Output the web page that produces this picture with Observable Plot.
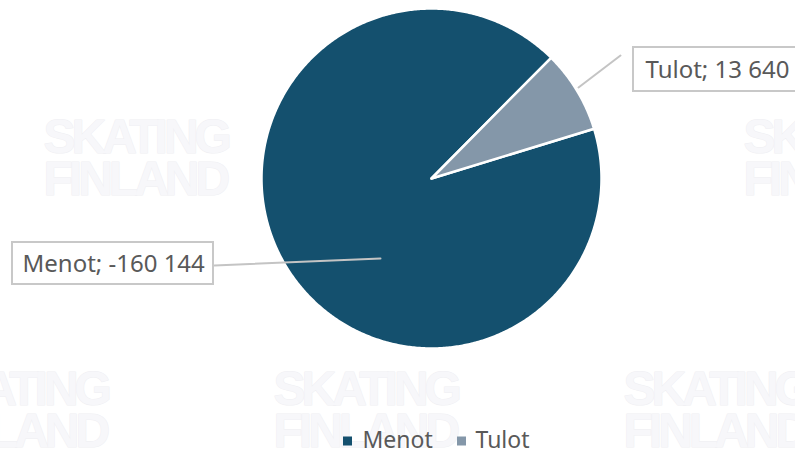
<!DOCTYPE html>
<html>
<head>
<meta charset="utf-8">
<script src="https://cdn.jsdelivr.net/npm/d3@7"></script>
<script src="https://cdn.jsdelivr.net/npm/@observablehq/plot@0.6"></script>
<style>
  html, body { margin: 0; padding: 0; background: #ffffff; }
  #chart { width: 795px; height: 450px; overflow: hidden; }
  g[fill="#f7f7fa"] { letter-spacing: -4px; }
</style>
</head>
<body>
<div id="chart"></div>
<script>
// ---- data ----
const categories = ["Menot", "Tulot"];
const values = [-160144, 13640];
const labels = ["Menot; -160 144", "Tulot; 13 640"];
const colors = ["#14506e", "#8497a9"];

// ---- layout ----
const W = 795, H = 450;
const cx = 431, cy = 178, R = 170;
const startDeg = 73;
const font = "Noto Sans";
const textColor = "#595959";

const total = d3.sum(values, v => Math.abs(v));
const pt = (a, r) => [cx + r * Math.sin(a), cy - r * Math.cos(a)];

// slice polygons computed from data
let a0 = startDeg * Math.PI / 180;
const slices = categories.map((c, i) => {
  const a1 = a0 + Math.abs(values[i]) / total * 2 * Math.PI;
  const n = Math.max(2, Math.ceil((a1 - a0) / (Math.PI / 360)));
  const pts = [{x: cx, y: cy}];
  for (let k = 0; k <= n; k++) {
    const [x, y] = pt(a0 + (a1 - a0) * k / n, R);
    pts.push({x, y});
  }
  pts.push({x: cx, y: cy});
  const s = {category: c, color: colors[i], pts, a0, a1};
  a0 = a1;
  return s;
});

// data labels (box + text + leader)
const labelLayout = [
  {box: [12, 213, 242, 284], tx: 22, ty: 264, leader: [[214, 265], [380, 258]]},
  {box: [633, 815, 47, 91], tx: 645, ty: 70, leader: [[578, 87], [620, 55]]}
];
const labelRows = categories.map((c, i) => ({
  text: labels[i], ...labelLayout[i]
}));

// watermark tiles
const wmTiles = [[43, 118], [393, 118], [743, 118], [-77, 370], [273, 370], [623, 370]];

// legend
const legendLayout = [{sq: 343, tx: 362}, {sq: 457, tx: 475}];
const legendY = 441;
const legendRows = categories.map((c, i) => ({category: c, color: colors[i], ...legendLayout[i]}));

const marks = [];
// watermark (behind)
for (const [x, y] of wmTiles) {
  marks.push(Plot.text(["SKATING", "FINLAND"], {
    x: x, y: (d, i) => y + 19 + i * 42, text: d => d,
    textAnchor: "start", fontSize: 48, fontWeight: "bold",
    fontFamily: "Liberation Sans, sans-serif",
    fill: "#f7f7fa", stroke: "#efeff3", strokeWidth: 1
  }));
}
// pie slices
for (const s of slices) {
  marks.push(Plot.line(s.pts, {
    x: "x", y: "y", fill: s.color, stroke: "#ffffff", strokeWidth: 2.5,
    strokeLinejoin: "round", curve: "linear"
  }));
}
// leaders
for (const r of labelRows) {
  marks.push(Plot.line(r.leader, {x: d => d[0], y: d => d[1], stroke: "#c4c4c4", strokeWidth: 2}));
}
// label boxes
marks.push(Plot.rect(labelRows, {
  x1: d => d.box[0], x2: d => d.box[1], y1: d => d.box[2], y2: d => d.box[3],
  fill: "#ffffff", stroke: "#c8c8c8", strokeWidth: 2
}));
marks.push(Plot.text(labelRows, {
  x: "tx", y: "ty", text: "text", textAnchor: "start", fontSize: 24,
  fontFamily: font, fill: textColor
}));
// legend
marks.push(Plot.rect(legendRows, {
  x1: "sq", x2: d => d.sq + 9, y1: legendY - 4.5, y2: legendY + 4.5, fill: "color"
}));
marks.push(Plot.text(legendRows, {
  x: "tx", y: legendY - 1, text: "category", textAnchor: "start", fontSize: 23,
  fontFamily: font, fill: textColor
}));

const chart = Plot.plot({
  width: W, height: H,
  margin: 0,
  x: {type: "identity", axis: null},
  y: {type: "identity", axis: null},
  color: {type: "identity"},
  style: {background: "#ffffff", fontFamily: font, overflow: "hidden"},
  marks
});
document.getElementById("chart").appendChild(chart);
</script>
</body>
</html>
